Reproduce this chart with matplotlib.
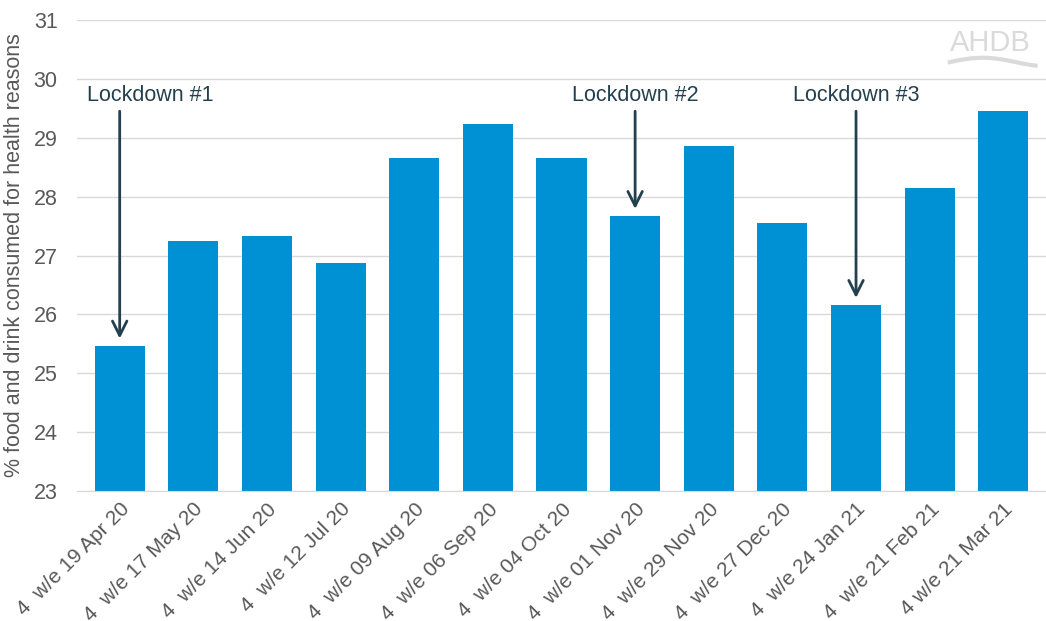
import matplotlib.pyplot as plt
import numpy as np

plt.rcParams['font.family'] = ['Liberation Sans', 'DejaVu Sans']

# Periods (4 weeks ending)
labels = ['4  w/e 19 Apr 20', '4  w/e 17 May 20', '4  w/e 14 Jun 20', '4  w/e 12 Jul 20',
          '4  w/e 09 Aug 20', '4  w/e 06 Sep 20', '4  w/e 04 Oct 20', '4  w/e 01 Nov 20',
          '4  w/e 29 Nov 20', '4  w/e 27 Dec 20', '4  w/e 24 Jan 21', '4  w/e 21 Feb 21',
          '4 w/e 21 Mar 21']
values = [25.47, 27.25, 27.33, 26.88, 28.65, 29.23, 28.65, 27.67, 28.86, 27.55, 26.16, 28.14, 29.45]

# Lockdown annotations: bar index and label
lockdown_idx = [0, 7, 10]
lockdown_txt = ['Lockdown #1', 'Lockdown #2', 'Lockdown #3']

fig = plt.figure(figsize=(10.46, 6.21), dpi=100)
ax = fig.add_axes([0.0736, 0.209, 0.9264, 0.759])

x = np.arange(len(values))
ax.bar(x, values, width=0.68, color='#0090d4', zorder=2)

ax.set_ylim(23, 31)
ax.set_yticks(range(23, 32))
ax.set_xlim(-0.58, len(values) - 0.42)
ax.set_xticks(x)
ax.set_xticklabels(labels, rotation=45, ha='right', rotation_mode='anchor',
                   fontsize=15, color='#595959')
ax.tick_params(axis='y', labelsize=15.5, colors='#595959', length=0, pad=14)
ax.tick_params(axis='x', length=0, pad=6)
ax.grid(axis='y', color='#d9d9d9', lw=1, zorder=0)
for s in ['top', 'right', 'left']:
    ax.spines[s].set_visible(False)
ax.spines['bottom'].set_color('#d9d9d9')
ax.set_ylabel('% food and drink consumed for health reasons', fontsize=15.5,
              color='#595959', labelpad=6)

dark = '#23404f'
for i, t in zip(lockdown_idx, lockdown_txt):
    if i == 0:
        ax.text(i - 0.44, 29.72, t, ha='left', va='center', fontsize=15.5, color=dark)
    else:
        ax.text(i, 29.72, t, ha='center', va='center', fontsize=15.5, color=dark)
    ax.annotate('', xy=(i, values[i] + 0.12), xytext=(i, 29.45),
                arrowprops=dict(arrowstyle='->', color=dark, lw=2,
                                mutation_scale=26, shrinkA=0, shrinkB=0))

# AHDB logo
fig.text(0.947, 0.93, 'AHDB', ha='center', va='center', fontsize=21,
         color='#dadada')
wx = np.linspace(0.908, 0.99, 50)
wy = 0.9 + 0.007 * np.sin((wx - 0.908) / 0.082 * np.pi * 1.3)
fig.add_artist(plt.Line2D(wx, wy, color='#dadada', lw=3))

fig.savefig('out.png', dpi=100)
